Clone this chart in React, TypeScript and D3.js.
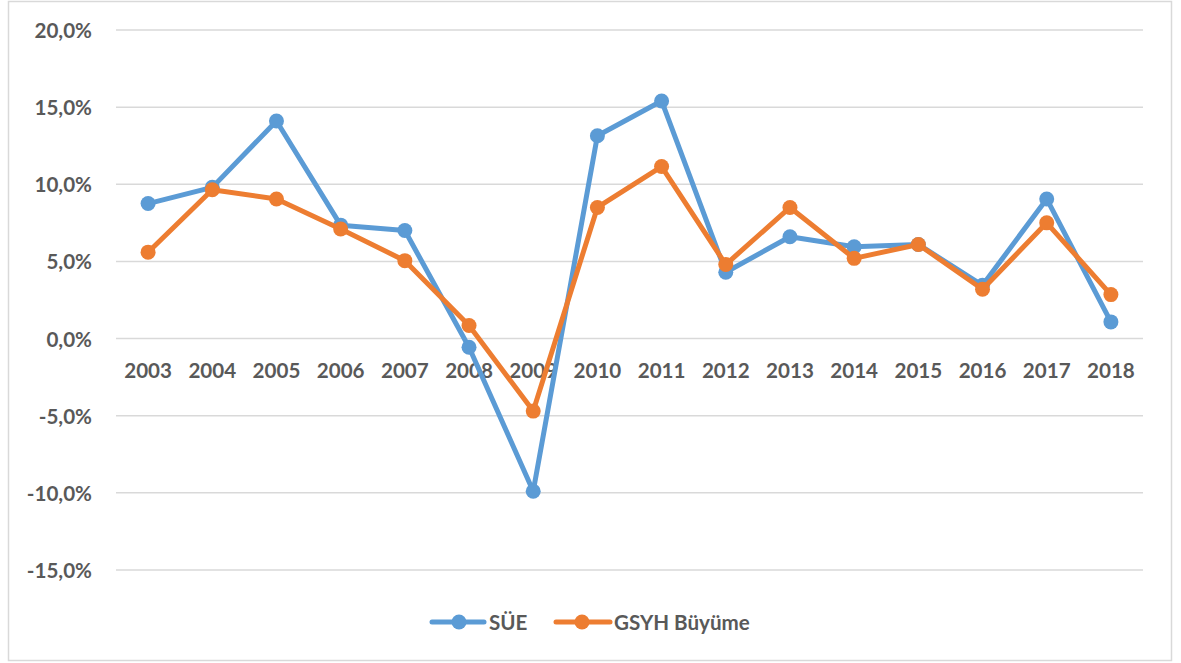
import * as d3 from "d3";

const years = ["2003", "2004", "2005", "2006", "2007", "2008", "2009", "2010", "2011", "2012", "2013", "2014", "2015", "2016", "2017", "2018"];
const sueValues = [8.75, 9.8, 14.1, 7.35, 7.0, -0.56, -9.9, 13.15, 15.4, 4.3, 6.6, 5.95, 6.1, 3.45, 9.05, 1.08];
const gsyhValues = [5.6, 9.65, 9.05, 7.1, 5.05, 0.85, -4.7, 8.5, 11.15, 4.8, 8.5, 5.2, 6.1, 3.2, 7.5, 2.85];
const yTicks = [-15, -10, -5, 0, 5, 10, 15, 20];

const series = [
  { name: "SÜE", values: sueValues, color: "#5B9BD5" },
  { name: "GSYH Büyüme", values: gsyhValues, color: "#ED7D31" },
];

const W = 1181;
const H = 663;
const font = "Lato, 'Open Sans', sans-serif";
const textColor = "#595959";
const fs = 20.6;

export default function App() {
  const x = d3.scaleBand<string>().domain(years).range([116, 1143]).padding(0);
  const y = d3.scaleLinear().domain([-15, 20]).range([570, 30]);
  const cx = (yr: string) => (x(yr) ?? 0) + x.bandwidth() / 2;
  const fmt = (v: number) => v.toFixed(1).replace(".", ",") + "%";

  const line = d3
    .line<number>()
    .x((_, i) => cx(years[i]))
    .y((d) => y(d));

  return (
    <svg
      width={W}
      height={H}
      style={{ position: "absolute", left: 0, top: 0, background: "#fff" }}
      fontFamily={font}
    >
      <rect x={8.5} y={1.5} width={1163} height={659} fill="#fff" stroke="#d9d9d9" strokeWidth={1.5} />

      {yTicks.map((t) => (
        <g key={t}>
          <line x1={116} x2={1143} y1={y(t)} y2={y(t)} stroke="#d9d9d9" strokeWidth={1.5} />
          <text
            x={92}
            y={y(t)}
            textAnchor="end"
            dominantBaseline="central"
            fontSize={fs}
            fontWeight="bold"
            fill={textColor}
          >
            {fmt(t)}
          </text>
        </g>
      ))}

      {years.map((yr) => (
        <text
          key={yr}
          x={cx(yr)}
          y={y(0) + 31}
          textAnchor="middle"
          dominantBaseline="central"
          fontSize={fs}
          fontWeight="bold"
          fill={textColor}
        >
          {yr}
        </text>
      ))}

      {series.map((s) => (
        <g key={s.name}>
          <path
            d={line(s.values) ?? ""}
            fill="none"
            stroke={s.color}
            strokeWidth={5}
            strokeLinejoin="round"
            strokeLinecap="round"
          />
          {s.values.map((v, i) => (
            <circle key={i} cx={cx(years[i])} cy={y(v)} r={7.5} fill={s.color} />
          ))}
        </g>
      ))}

      {/* legend */}
      <g>
        <line x1={432} x2={484} y1={622} y2={622} stroke={series[0].color} strokeWidth={5} strokeLinecap="round" />
        <circle cx={459} cy={622} r={7.5} fill={series[0].color} />
        <text x={489} y={622} dominantBaseline="central" fontSize={fs} fontWeight="bold" fill={textColor}>
          {series[0].name}
        </text>
        <line x1={556} x2={610} y1={622} y2={622} stroke={series[1].color} strokeWidth={5} strokeLinecap="round" />
        <circle cx={582} cy={622} r={7.5} fill={series[1].color} />
        <text x={614} y={622} dominantBaseline="central" fontSize={fs} fontWeight="bold" fill={textColor}>
          {series[1].name}
        </text>
      </g>
    </svg>
  );
}
